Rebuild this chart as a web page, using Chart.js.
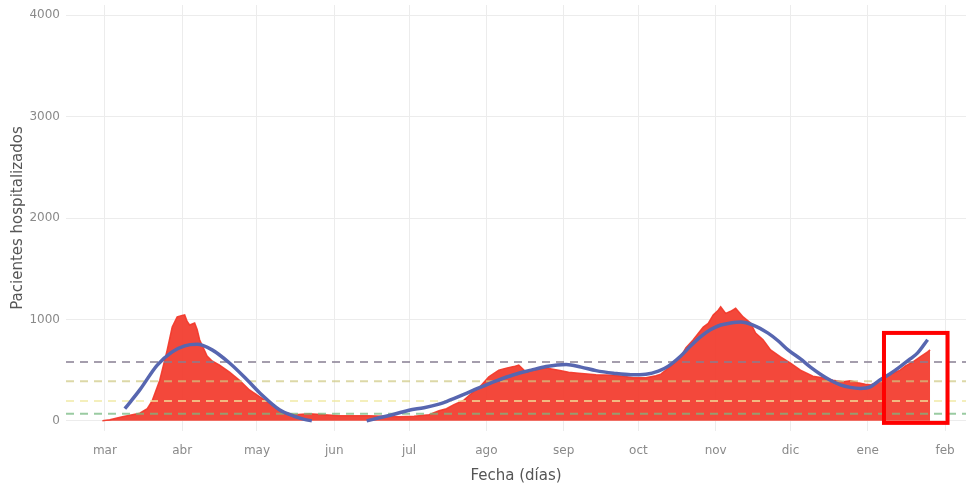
<!DOCTYPE html>
<html>
<head>
<meta charset="utf-8">
<title>Pacientes hospitalizados</title>
<script src="https://cdn.jsdelivr.net/npm/chart.js@4.4.1/dist/chart.umd.min.js"></script>
<style>
  html, body { margin: 0; padding: 0; background: #fff; }
  #wrap { width: 969px; height: 486px; }
</style>
</head>
<body>
<div id="wrap"><canvas id="chart" width="969" height="486"></canvas></div>
<script>
// eje x: días desde el 1 de marzo de 2020
const monthLabels = ['mar', 'abr', 'may', 'jun', 'jul', 'ago', 'sep', 'oct', 'nov', 'dic', 'ene', 'feb'];
const monthStarts = monthLabels.map((m, i) => Math.round((Date.UTC(2020, 2 + i, 1) - Date.UTC(2020, 2, 1)) / 86400000));

// pacientes hospitalizados por día
const hospDays = [-1, 2, 7, 11, 14, 17, 19, 22, 25, 27, 29, 31, 32, 33, 34, 36, 37, 38, 41, 43, 46, 50, 54, 58, 62, 66, 71, 76, 82, 88, 94, 100, 106, 112, 118, 124, 130, 134, 137, 140, 144, 147, 150, 154, 158, 161, 164, 166, 169, 172, 177, 182, 186, 190, 197, 204, 208, 212, 217, 221, 223, 225, 228, 231, 233, 236, 240, 242, 244, 246, 247, 249, 251, 253, 256, 259, 261, 264, 267, 271, 275, 279, 284, 289, 292, 296, 299, 302, 305, 307, 310, 312, 315, 319, 321, 324, 327, 330, 331];
const hospValues = [0, 10, 40, 60, 75, 120, 200, 400, 700, 925, 1025, 1040, 1045, 980, 945, 965, 900, 800, 640, 590, 550, 480, 400, 305, 240, 175, 90, 60, 70, 60, 50, 50, 50, 45, 40, 45, 60, 100, 120, 160, 205, 270, 325, 435, 500, 520, 535, 550, 480, 500, 520, 500, 480, 470, 455, 450, 440, 425, 425, 445, 460, 500, 560, 630, 720, 800, 925, 960, 1045, 1090, 1125, 1060, 1080, 1110, 1025, 965, 865, 800, 700, 630, 570, 500, 440, 420, 400, 385, 395, 375, 360, 355, 380, 425, 460, 500, 540, 580, 630, 680, 700];

// curva de tendencia suavizada (null = fuera del eje)
const trendDays = [8, 14, 21, 27, 32, 37, 43, 50, 57, 63, 70, 76, 80, 83, 94, 105, 110, 116, 122, 128, 134, 137, 144, 150, 157, 164, 171, 177, 185, 191, 197, 204, 211, 217, 222, 226, 231, 235, 239, 243, 247, 251, 255, 260, 266, 270, 274, 279, 283, 287, 291, 295, 299, 303, 307, 311, 315, 319, 323, 326, 330];
const trendValues = [120, 305, 550, 680, 740, 755, 700, 570, 405, 255, 110, 45, 15, 0, null, 0, 30, 65, 105, 130, 165, 190, 260, 325, 395, 455, 500, 535, 555, 530, 495, 470, 455, 460, 490, 540, 640, 740, 830, 900, 945, 965, 975, 945, 865, 790, 700, 610, 530, 460, 400, 355, 330, 320, 335, 405, 465, 535, 610, 670, 800];

// umbrales (líneas discontinuas)
const thresholds = [580, 390, 195, 70];
const thresholdColors = ['rgba(135,125,145,0.75)', 'rgba(205,200,130,0.7)', 'rgba(240,232,160,0.7)', 'rgba(120,185,130,0.75)'];

const yTicks = [0, 1000, 2000, 3000, 4000];
const xMin = -15.6, xMax = 345.4;
const yMin = -100, yMax = 4100;

// recuadro rojo sobre el último tramo
const boxFrom = 312.5, boxTo = 338, boxLow = -20, boxHigh = 867;

const hospData = hospDays.map((d, i) => ({ x: d, y: hospValues[i] }));
const trendData = trendDays.map((d, i) => ({ x: d, y: trendValues[i] }));

const thresholdSets = thresholds.map((t, i) => ({
    data: [{ x: xMin, y: t }, { x: xMax, y: t }],
    borderColor: thresholdColors[i],
    borderWidth: 2,
    borderDash: [8, 6],
    pointRadius: 0,
    fill: false,
    order: 1
}));

const highlightBox = {
    id: 'highlightBox',
    afterDatasetsDraw(chart) {
        const { ctx, scales: { x, y } } = chart;
        const left = x.getPixelForValue(boxFrom);
        const right = x.getPixelForValue(boxTo);
        const top = y.getPixelForValue(boxHigh);
        const bottom = y.getPixelForValue(boxLow);
        ctx.save();
        ctx.strokeStyle = '#ff0000';
        ctx.lineWidth = 4;
        ctx.strokeRect(left, top, right - left, bottom - top);
        ctx.restore();
    }
};

const tickFont = { family: 'DejaVu Sans', size: 12 };
const titleFont = { family: 'DejaVu Sans', size: 15 };

const ctx = document.getElementById('chart').getContext('2d');
new Chart(ctx, {
    type: 'line',
    data: {
        datasets: [
            {
                data: trendData,
                borderColor: '#5766b0',
                borderWidth: 3.5,
                pointRadius: 0,
                cubicInterpolationMode: 'monotone',
                spanGaps: false,
                fill: false,
                order: 0
            },
            ...thresholdSets,
            {
                data: hospData,
                borderColor: 'rgba(242,56,42,0.92)',
                backgroundColor: 'rgba(242,56,42,0.92)',
                borderWidth: 1.5,
                pointRadius: 0,
                tension: 0,
                fill: 'origin',
                order: 2
            }
        ]
    },
    options: {
        responsive: false,
        animation: false,
        devicePixelRatio: 1,
        layout: { padding: { top: 5, right: 3, left: 0, bottom: 0 } },
        plugins: {
            legend: { display: false },
            tooltip: { enabled: false }
        },
        scales: {
            x: {
                type: 'linear',
                min: xMin,
                max: xMax,
                afterBuildTicks: scale => { scale.ticks = monthStarts.map(v => ({ value: v })); },
                afterFit: scale => { scale.height = 55; },
                border: { display: false },
                grid: { color: '#ececec', lineWidth: 1, drawTicks: false },
                ticks: {
                    color: '#8a8a8a',
                    font: tickFont,
                    padding: 13,
                    maxRotation: 0,
                    autoSkip: false,
                    callback: (v, i) => monthLabels[i]
                },
                title: {
                    display: true,
                    text: 'Fecha (días)',
                    color: '#555',
                    font: titleFont,
                    padding: { top: 0, bottom: 1 }
                }
            },
            y: {
                min: yMin,
                max: yMax,
                afterBuildTicks: scale => { scale.ticks = yTicks.map(v => ({ value: v })); },
                afterFit: scale => {
                    scale.width = 66;
                    scale.paddingTop = 0;
                    scale.paddingBottom = 0;
                },
                border: { display: false },
                grid: { color: '#ececec', lineWidth: 1, drawTicks: false },
                ticks: {
                    color: '#8a8a8a',
                    font: tickFont,
                    padding: 6,
                    callback: v => String(v)
                },
                title: {
                    display: true,
                    text: 'Pacientes hospitalizados',
                    color: '#555',
                    font: titleFont,
                    padding: { top: 9, bottom: 0 }
                }
            }
        }
    },
    plugins: [highlightBox]
});
</script>
</body>
</html>
